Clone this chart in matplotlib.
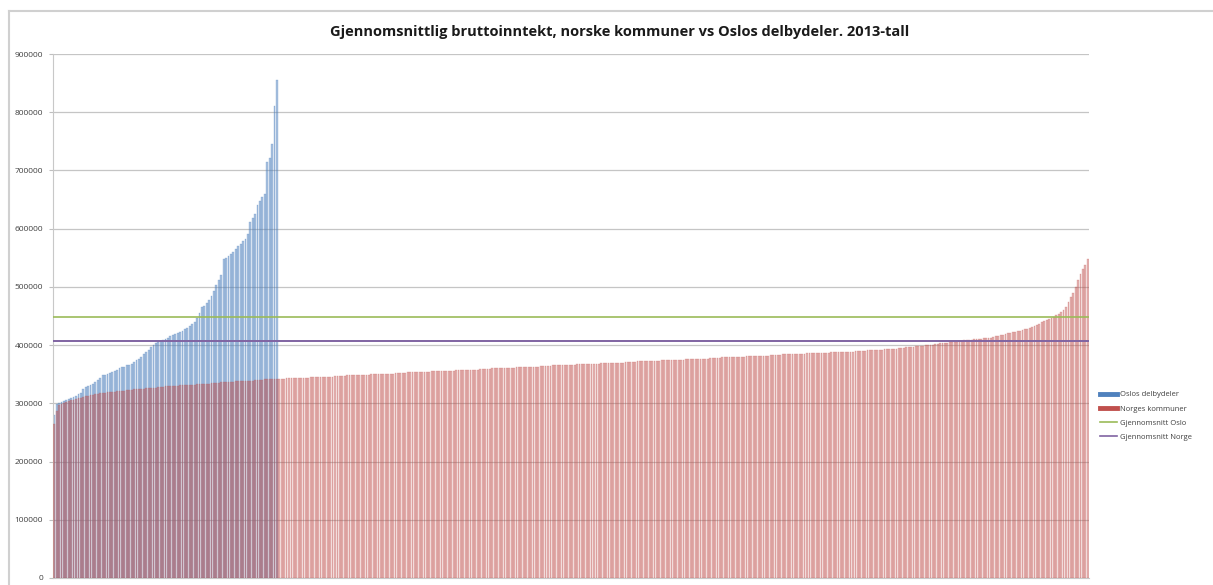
import numpy as np
import matplotlib
matplotlib.use("Agg")
import matplotlib.pyplot as plt
from matplotlib.lines import Line2D

plt.rcParams['font.family'] = ['Open Sans', 'DejaVu Sans']

# gjennomsnittlig bruttoinntekt, tusen kroner, sortert stigende
oslo_delbydeler = [
    280, 298, 300, 302, 304, 305, 307, 309, 311, 313,
    316, 318, 324, 328, 330, 332, 334, 337, 340, 344,
    348, 349, 351, 352, 354, 356, 358, 360, 362, 363,
    365, 366, 368, 371, 374, 377, 380, 384, 388, 392,
    397, 401, 403, 405, 407, 409, 411, 413, 415, 417,
    419, 421, 423, 425, 427, 430, 433, 436, 440, 446,
    455, 465, 468, 472, 478, 485, 493, 503, 512, 520,
    548, 550, 553, 556, 560, 565, 570, 574, 578, 583,
    590, 612, 618, 625, 640, 648, 655, 660, 715, 722,
    745, 810, 855,
]

norges_kommuner = [
    265, 286, 297, 299, 301, 302, 304, 305, 306, 308,
    309, 310, 311, 312, 313, 314, 315, 316, 316, 317,
    318, 318, 319, 319, 320, 320, 321, 321, 322, 322,
    323, 323, 323, 324, 324, 325, 325, 325, 326, 326,
    327, 327, 327, 328, 328, 328, 329, 329, 329, 330,
    330, 330, 331, 331, 331, 332, 332, 332, 332, 333,
    333, 333, 334, 334, 334, 335, 335, 335, 335, 336,
    336, 336, 337, 337, 337, 338, 338, 338, 338, 339,
    339, 339, 339, 340, 340, 340, 340, 341, 341, 341,
    341, 342, 342, 342, 342, 342, 343, 343, 343, 343,
    343, 344, 344, 344, 344, 344, 345, 345, 345, 345,
    345, 346, 346, 346, 346, 346, 347, 347, 347, 347,
    347, 348, 348, 348, 348, 348, 349, 349, 349, 349,
    349, 350, 350, 350, 350, 350, 351, 351, 351, 351,
    351, 352, 352, 352, 352, 352, 353, 353, 353, 353,
    353, 354, 354, 354, 354, 354, 355, 355, 355, 355,
    355, 356, 356, 356, 356, 356, 357, 357, 357, 357,
    357, 358, 358, 358, 358, 358, 359, 359, 359, 359,
    359, 360, 360, 360, 360, 360, 361, 361, 361, 361,
    361, 362, 362, 362, 362, 362, 363, 363, 363, 363,
    363, 364, 364, 364, 364, 364, 365, 365, 365, 365,
    365, 366, 366, 366, 366, 366, 367, 367, 367, 367,
    367, 368, 368, 368, 368, 368, 369, 369, 369, 369,
    369, 370, 370, 370, 370, 370, 371, 371, 371, 371,
    371, 372, 372, 372, 372, 372, 373, 373, 373, 373,
    373, 374, 374, 374, 374, 374, 375, 375, 375, 375,
    375, 376, 376, 376, 376, 376, 377, 377, 377, 377,
    377, 378, 378, 378, 378, 378, 379, 379, 379, 379,
    379, 380, 380, 380, 380, 380, 381, 381, 381, 381,
    381, 382, 382, 382, 382, 382, 383, 383, 383, 383,
    383, 384, 384, 384, 384, 384, 385, 385, 385, 385,
    385, 386, 386, 386, 386, 386, 387, 387, 387, 387,
    387, 388, 388, 388, 388, 388, 389, 389, 389, 389,
    389, 390, 390, 390, 390, 390, 391, 391, 391, 391,
    392, 392, 392, 393, 393, 393, 394, 394, 394, 395,
    395, 395, 396, 396, 397, 397, 398, 398, 399, 399,
    400, 400, 401, 401, 402, 402, 403, 403, 404, 404,
    405, 405, 406, 406, 407, 407, 408, 408, 409, 409,
    410, 410, 411, 411, 412, 412, 413, 413, 414, 415,
    416, 417, 418, 419, 420, 421, 422, 423, 424, 425,
    426, 427, 428, 429, 431, 433, 435, 437, 439, 441,
    443, 445, 447, 449, 451, 454, 457, 460, 466, 474,
    482, 490, 500, 512, 522, 530, 538, 548,
]

snitt_oslo = 448000
snitt_norge = 407000

y_ticks = [0, 100000, 200000, 300000, 400000, 500000, 600000, 700000, 800000, 900000]
legend_labels = ['Oslos delbydeler', 'Norges kommuner', 'Gjennomsnitt Oslo', 'Gjennomsnitt Norge']

blue = '#4F81BD'
red = '#C0504D'
green = '#9BBB59'
purple = '#8064A2'

oslo = np.array(oslo_delbydeler) * 1000
norge = np.array(norges_kommuner) * 1000

fig = plt.figure(figsize=(12.13, 5.85), dpi=100)
ax = fig.add_axes([53 / 1213, 1 - 578 / 585, (1089 - 53) / 1213, (578 - 54) / 585])

ax.bar(np.arange(len(oslo)), oslo, width=0.75, color=blue, alpha=0.48,
       edgecolor=blue, linewidth=0.35, zorder=2)
ax.bar(np.arange(len(norge)), norge, width=0.75, color=red, alpha=0.42,
       edgecolor=red, linewidth=0.35, zorder=3)

ax.axhline(snitt_oslo, color=green, linewidth=1.2, zorder=4)
ax.axhline(snitt_norge, color=purple, linewidth=1.4, zorder=4)

ax.set_xlim(-0.5, len(norge) - 0.5)
ax.set_ylim(0, 900000)
ax.set_yticks(y_ticks)
ax.set_yticklabels([str(t) for t in y_ticks], fontsize=6, color='#404040')
ax.set_xticks([])
ax.tick_params(axis='y', length=3, color='#bfbfbf', pad=4)
ax.grid(axis='y', color='#8c8c8c', linewidth=0.9, alpha=0.5, zorder=1)
ax.set_axisbelow(True)
for side in ['top', 'right']:
    ax.spines[side].set_visible(False)
ax.spines['left'].set_color('#c8c8c8')
ax.spines['bottom'].set_color('#c8c8c8')

fig.text(620 / 1213, 1 - 32 / 585,
         'Gjennomsnittlig bruttoinntekt, norske kommuner vs Oslos delbydeler. 2013-tall',
         ha='center', va='center', fontsize=10.5, fontweight='bold', color='#1a1a1a')

# ytre ramme
fig.add_artist(Line2D([9 / 1213, 1], [1 - 11 / 585, 1 - 11 / 585], color='#d0d0d0', linewidth=1.5))
fig.add_artist(Line2D([9 / 1213, 9 / 1213], [0, 1 - 11 / 585], color='#d0d0d0', linewidth=1.5))

handles = [
    Line2D([0], [0], color=blue, linewidth=3.5),
    Line2D([0], [0], color=red, linewidth=3.5),
    Line2D([0], [0], color=green, linewidth=1.2),
    Line2D([0], [0], color=purple, linewidth=1.2),
]
fig.legend(handles, legend_labels, loc='center left', bbox_to_anchor=(1093 / 1213, 1 - 416 / 585),
           frameon=False, fontsize=5.5, handlelength=2.2, handletextpad=0.4,
           labelspacing=0.9, labelcolor='#404040')

fig.savefig('out.png', dpi=100)
